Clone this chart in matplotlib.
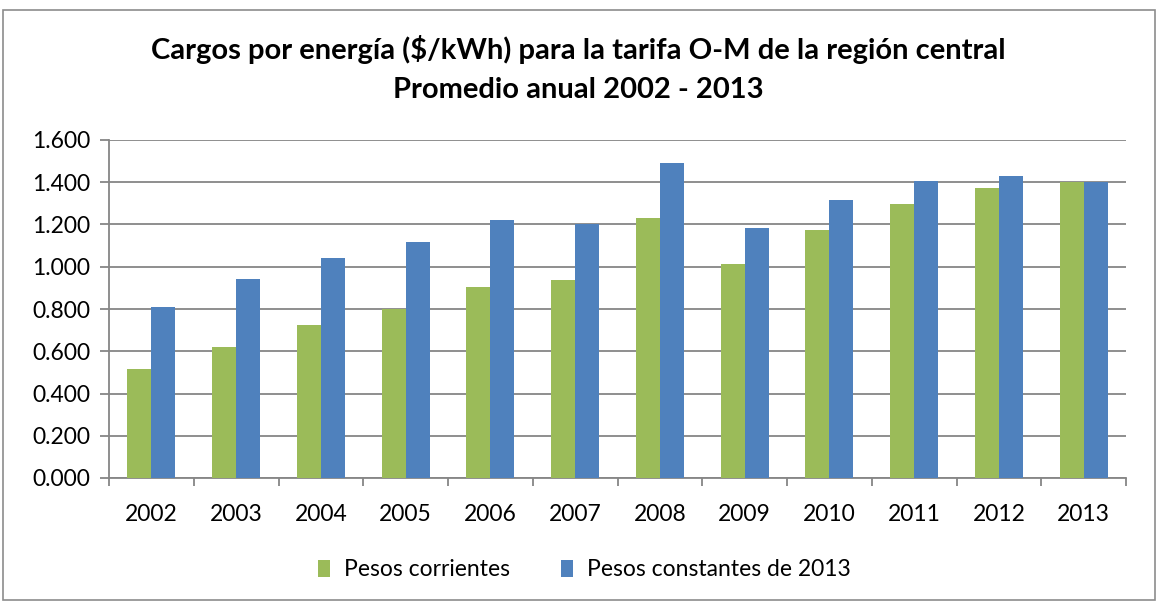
import matplotlib
matplotlib.use("Agg")
import matplotlib.pyplot as plt
from matplotlib.patches import Rectangle
from matplotlib.ticker import FuncFormatter, FixedLocator
import numpy as np

years = ["2002", "2003", "2004", "2005", "2006", "2007", "2008", "2009", "2010", "2011", "2012", "2013"]
corrientes = [0.517, 0.622, 0.725, 0.802, 0.906, 0.935, 1.232, 1.013, 1.173, 1.298, 1.375, 1.400]
constantes = [0.811, 0.944, 1.040, 1.116, 1.222, 1.202, 1.490, 1.184, 1.317, 1.408, 1.430, 1.403]
series_names = ["Pesos corrientes", "Pesos constantes de 2013"]
title_lines = ["Cargos por energía ($/kWh) para la tarifa O-M de la región central",
               "Promedio anual 2002 - 2013"]

green = "#9BBB59"
blue = "#4F81BD"
grid_c = "#868686"

plt.rcParams['font.family'] = ['Lato', 'DejaVu Sans']

W, H = 1157, 606
fig = plt.figure(figsize=(W / 100, H / 100), dpi=100)
fig.patch.set_facecolor("white")

# outer chart border
fig.patches.append(Rectangle((3 / W, 1 - 600 / H), 1152 / W, 590 / H, transform=fig.transFigure,
                             fill=False, edgecolor="#8C8C8C", linewidth=1.2))

left, right, top, bottom = 109, 1126, 140, 478
ax = fig.add_axes([left / W, 1 - bottom / H, (right - left) / W, (bottom - top) / H])

x = np.arange(len(years))
bw = 0.283
ax.bar(x - bw / 2, corrientes, width=bw, color=green, label=series_names[0], zorder=3)
ax.bar(x + bw / 2, constantes, width=bw, color=blue, label=series_names[1], zorder=3)

ax.set_xlim(-0.5, len(years) - 0.5)
ax.set_ylim(0, 1.6)
ax.set_yticks(np.arange(0, 1.61, 0.2))
ax.yaxis.set_major_formatter(FuncFormatter(lambda v, p: f"{v:.3f}"))
ax.grid(axis="y", color=grid_c, linewidth=1.3, zorder=0)

ax.set_xticks(x)
ax.set_xticklabels(years)
ax.tick_params(axis="x", length=0, labelsize=16.5, pad=19)
ax.xaxis.set_minor_locator(FixedLocator(np.arange(-0.5, len(years), 1)))
ax.tick_params(axis="x", which="minor", length=6, color=grid_c, width=1.3)
ax.tick_params(axis="y", length=6.5, color=grid_c, width=1.3, labelsize=16.5, pad=7)

for s in ["top", "right"]:
    ax.spines[s].set_visible(False)
for s in ["left", "bottom"]:
    ax.spines[s].set_color(grid_c)
    ax.spines[s].set_linewidth(1.3)

fig.text(0.5, 1 - 50 / H, title_lines[0], ha="center", va="center", fontsize=21, fontweight="bold")
fig.text(0.5, 1 - 90 / H, title_lines[1], ha="center", va="center", fontsize=21, fontweight="bold")

fig.legend(loc="center", bbox_to_anchor=(0.505, 1 - 570 / H), ncol=2, frameon=False,
           fontsize=16.5, handlelength=0.55, handleheight=0.7, columnspacing=2.2, handletextpad=0.6)

fig.savefig("out.png", dpi=100)
